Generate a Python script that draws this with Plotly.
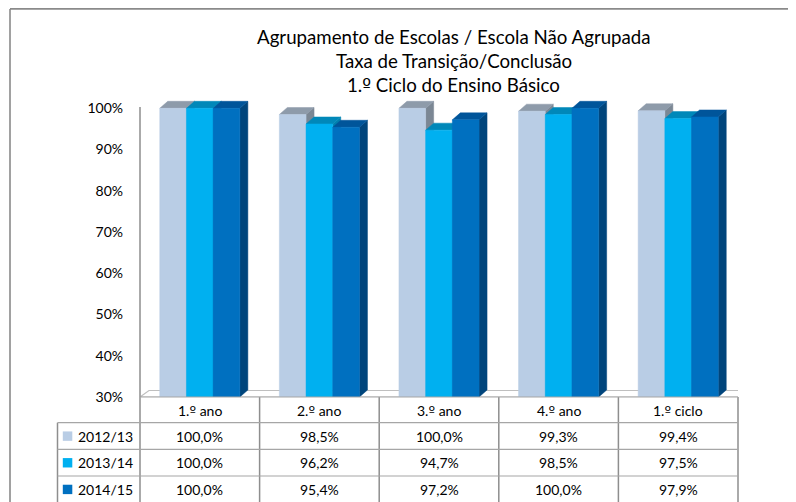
import plotly.graph_objects as go

# ---------------- data ----------------
categories = ["1.º ano", "2.º ano", "3.º ano", "4.º ano", "1.º ciclo"]
series_names = ["2012/13", "2013/14", "2014/15"]
v2012_13 = [100.0, 98.5, 100.0, 99.3, 99.4]
v2013_14 = [100.0, 96.2, 94.7, 98.5, 97.5]
v2014_15 = [100.0, 95.4, 97.2, 100.0, 97.9]
y_tick_values = [30, 40, 50, 60, 70, 80, 90, 100]
y_tick_labels = ["30%", "40%", "50%", "60%", "70%", "80%", "90%", "100%"]
title_lines = ["Agrupamento de Escolas / Escola Não Agrupada",
               "Taxa de Transição/Conclusão",
               "1.º Ciclo do Ensino Básico"]

series_values = [v2012_13, v2013_14, v2014_15]

# ---------------- styling / geometry ----------------
W, H = 796, 502
PAGE_OFF = 8                      # browser body margin
S_LEFT, S_RIGHT, S_TOP, S_BOTTOM = 140, 738, 100, 397   # plot area on screen
ML = S_LEFT - PAGE_OFF
MT = S_TOP - PAGE_OFF
MR = W - (S_RIGHT - PAGE_OFF)
MB = H - (S_BOTTOM - PAGE_OFF)
PW, PH = S_RIGHT - S_LEFT, S_BOTTOM - S_TOP
YMIN = 30
PX_PER_UNIT = (397 - 108.3) / 70.0
YMAX = YMIN + PH / PX_PER_UNIT
XPX = PW / 5.0  # pixels per category

FONT = "Lato"
front_col = ["#B9CDE5", "#00B0F0", "#0070C0"]
top_col = ["#8E9BAA", "#0088B9", "#00559A"]
side_col = ["#7B8794", "#0080AE", "#00457C"]

bar_w = 26.7 / XPX
dx = 8.0 / XPX
dy = 7.0 / PX_PER_UNIT
floor_dx = 9.0 / XPX
floor_dy = 6.5 / PX_PER_UNIT


def px_x(px):
    return (px - S_LEFT) / PW


def px_y(py):
    return (S_BOTTOM - py) / PH


def ordfix(t):
    return t.replace("º", '<span style="font-family:DejaVu Sans">º</span>')


fig = go.Figure()

# floor
fx = [-0.5, 4.5, 4.5 + floor_dx, -0.5 + floor_dx, -0.5]
fy = [YMIN, YMIN, YMIN + floor_dy, YMIN + floor_dy, YMIN]
fig.add_trace(go.Scatter(x=fx, y=fy, mode="lines", fill="toself",
                         fillcolor="#FFFFFF", line=dict(color="#BFBFBF", width=1.2),
                         hoverinfo="skip", showlegend=False, cliponaxis=False))

for s, vals in enumerate(series_values):
    sx, sy, tx, ty, frx, fry = [], [], [], [], [], []
    for i, v in enumerate(vals):
        x0 = i - 1.5 * bar_w + s * bar_w
        x1 = x0 + bar_w
        # side face
        sx += [x1, x1 + dx, x1 + dx, x1, x1, None]
        sy += [YMIN, YMIN + dy, v + dy, v, YMIN, None]
        # top face
        tx += [x0, x1, x1 + dx, x0 + dx, x0, None]
        ty += [v, v, v + dy, v + dy, v, None]
        # front face
        frx += [x0, x1, x1, x0, x0, None]
        fry += [YMIN, YMIN, v, v, YMIN, None]
    for xs, ys, col in ((sx, sy, side_col[s]), (tx, ty, top_col[s]), (frx, fry, front_col[s])):
        fig.add_trace(go.Scatter(x=xs, y=ys, mode="lines", fill="toself",
                                 fillcolor=col, line=dict(color=col, width=0.5),
                                 hoverinfo="skip", showlegend=False, cliponaxis=False))

# ---------------- table ----------------
shapes = []
line_v = dict(color="#8E8E8E", width=1.5)
line_h = dict(color="#A6A6A6", width=1.2)
table_top = 397
header_bottom = 422.7
row_h = 26.65
table_bottom = header_bottom + 3 * row_h
legend_left = 57.5
bottom_ext = table_bottom + 2

# outer chart frame
shapes.append(dict(type="line", xref="paper", yref="paper",
                   x0=px_x(10), x1=px_x(W + 20), y0=px_y(8.9), y1=px_y(8.9),
                   line=dict(color="#8A8A8A", width=1.6)))
shapes.append(dict(type="line", xref="paper", yref="paper",
                   x0=px_x(10), x1=px_x(10), y0=px_y(8.9), y1=px_y(H + 20),
                   line=dict(color="#8A8A8A", width=1.6)))

# left axis line (extends through table)
shapes.append(dict(type="line", xref="paper", yref="paper",
                   x0=0, x1=0, y0=px_y(107), y1=px_y(bottom_ext), line=line_v))
# category column separators
for k in range(1, 6):
    xp = S_LEFT + k * XPX
    shapes.append(dict(type="line", xref="paper", yref="paper",
                       x0=px_x(xp), x1=px_x(xp), y0=px_y(table_top), y1=px_y(bottom_ext),
                       line=line_v))
# legend column left edge
shapes.append(dict(type="line", xref="paper", yref="paper",
                   x0=px_x(legend_left), x1=px_x(legend_left),
                   y0=px_y(header_bottom), y1=px_y(bottom_ext), line=line_v))
# horizontal lines
shapes.append(dict(type="line", xref="paper", yref="paper",
                   x0=0, x1=1, y0=px_y(table_top), y1=px_y(table_top), line=line_h))
for r in range(4):
    yp = header_bottom + r * row_h
    shapes.append(dict(type="line", xref="paper", yref="paper",
                       x0=px_x(legend_left), x1=1, y0=px_y(yp), y1=px_y(yp), line=line_h))

annotations = []
# title
for j, (t, yc) in enumerate(zip(title_lines, [37, 61, 85])):
    annotations.append(dict(text=ordfix(t), xref="paper", yref="paper", x=px_x(453.5), y=px_y(yc),
                            xanchor="center", yanchor="middle", showarrow=False,
                            font=dict(family=FONT, size=18.7, color="#000000")))
# header row
for i, c in enumerate(categories):
    annotations.append(dict(text=ordfix(c), xref="x", yref="paper", x=i,
                            y=px_y((table_top + header_bottom) / 2 + 1),
                            xanchor="center", yanchor="middle", showarrow=False,
                            font=dict(family=FONT, size=14, color="#000000")))
# data rows
for s, (name, vals) in enumerate(zip(series_names, series_values)):
    yc = header_bottom + (s + 0.5) * row_h
    shapes.append(dict(type="rect", xref="paper", yref="paper",
                       x0=px_x(62.8), x1=px_x(72.3), y0=px_y(yc - 4.6), y1=px_y(yc + 4.8),
                       fillcolor=front_col[s], line=dict(width=0)))
    annotations.append(dict(text=name, xref="paper", yref="paper", x=px_x(76.0), y=px_y(yc),
                            xanchor="left", yanchor="middle", showarrow=False,
                            font=dict(family=FONT, size=14, color="#000000")))
    for i, v in enumerate(vals):
        annotations.append(dict(text=f"{v:.1f}%".replace(".", ","), xref="x", yref="paper",
                                x=i, y=px_y(yc), xanchor="center", yanchor="middle",
                                showarrow=False,
                                font=dict(family=FONT, size=14, color="#000000")))

fig.update_layout(
    width=W, height=H,
    margin=dict(l=ML, r=MR, t=MT, b=MB),
    paper_bgcolor="#FFFFFF", plot_bgcolor="rgba(0,0,0,0)",
    showlegend=False,
    shapes=shapes, annotations=annotations,
    xaxis=dict(range=[-0.5, 4.5], visible=False, fixedrange=True),
    yaxis=dict(range=[YMIN, YMAX], tickvals=y_tick_values, ticktext=y_tick_labels,
               showgrid=False, zeroline=False, showline=False, ticks="",
               ticklabelstandoff=16,
               tickfont=dict(family=FONT, size=14, color="#000000"), fixedrange=True),
)

fig.write_html("out.html")
